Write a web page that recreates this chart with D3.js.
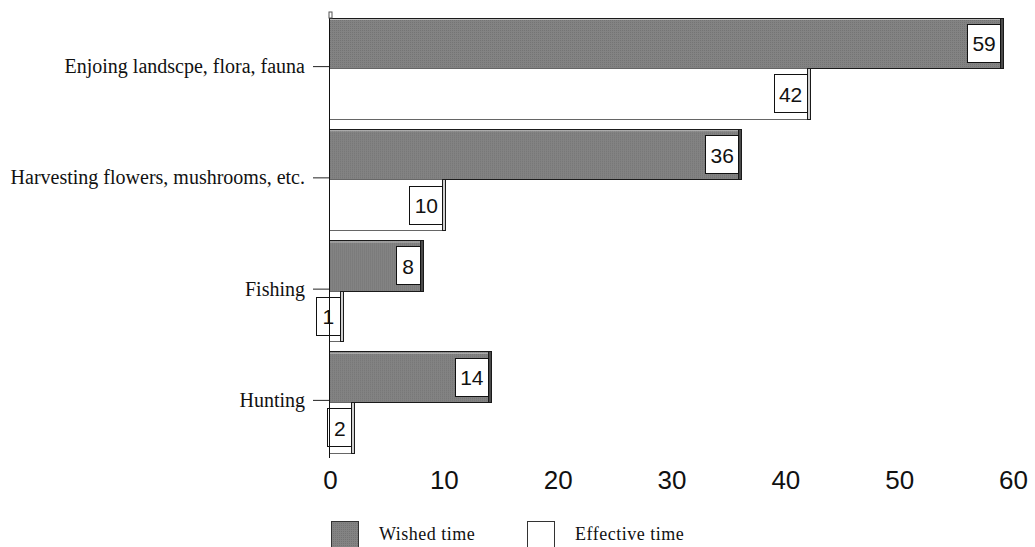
<!DOCTYPE html>
<html>
<head>
<meta charset="utf-8">
<script src="https://cdn.jsdelivr.net/npm/d3@7"></script>
<style>
  html, body { margin: 0; padding: 0; background: #fff; }
  svg { display: block; }
</style>
</head>
<body>
<svg id="chart" width="1035" height="547"></svg>
<script>
// Leisure activities: time wished vs. time effectively spent
const categories = ["Enjoing landscpe, flora, fauna", "Harvesting flowers, mushrooms, etc.", "Fishing", "Hunting"];
const seriesNames = ["Wished time", "Effective time"];
const wished = [59, 36, 8, 14];
const effective = [42, 10, 1, 2];
const xTicks = [0, 10, 20, 30, 40, 50, 60];

const svg = d3.select("#chart");

const x = d3.scaleLinear().domain([0, 60]).range([329, 1012]);
const y = d3.scaleBand().domain(categories).range([18, 453]).paddingInner(0.09).paddingOuter(0);
const ySub = d3.scaleBand().domain(seriesNames).range([0, y.bandwidth()]);

// fine dotted fill used for the grey bars
const defs = svg.append("defs");
const pat = defs.append("pattern").attr("id", "dots")
  .attr("width", 2).attr("height", 2).attr("patternUnits", "userSpaceOnUse");
pat.append("rect").attr("width", 2).attr("height", 2).attr("fill", "#838383");
pat.append("rect").attr("width", 1).attr("height", 1).attr("fill", "#747474");

const rows = categories.map((c, i) => ({ cat: c, values: [
  { s: seriesNames[0], v: wished[i] },
  { s: seriesNames[1], v: effective[i] }
]}));

const groups = svg.selectAll("g.cat").data(rows).join("g")
  .attr("class", "cat")
  .attr("transform", d => `translate(0,${y(d.cat)})`);

const bars = groups.selectAll("g.bar").data(d => d.values).join("g").attr("class", "bar");

const depth = 3;
bars.append("rect")
  .attr("x", x(0))
  .attr("y", d => ySub(d.s))
  .attr("width", d => x(d.v) - x(0) + depth)
  .attr("height", ySub.bandwidth())
  .attr("fill", d => d.s === seriesNames[0] ? "url(#dots)" : "#fff")
  .attr("stroke", d => d.s === seriesNames[0] ? "#1a1a1a" : "#666")
  .attr("stroke-width", 1)
  .attr("shape-rendering", "crispEdges");

// light top edge on grey bars
bars.filter(d => d.s === seriesNames[0]).append("line")
  .attr("x1", x(0) + 1).attr("x2", d => x(d.v) + depth - 1)
  .attr("y1", d => ySub(d.s) + 1.5).attr("y2", d => ySub(d.s) + 1.5)
  .attr("stroke", "#b8b8b8").attr("stroke-width", 1);

// darker side face at the end of each bar
bars.append("rect")
  .attr("x", d => x(d.v))
  .attr("y", d => ySub(d.s))
  .attr("width", depth)
  .attr("height", ySub.bandwidth())
  .attr("fill", d => d.s === seriesNames[0] ? "#4a4a4a" : "#d0d0d0")
  .attr("stroke", "#1a1a1a")
  .attr("stroke-width", 1)
  .attr("shape-rendering", "crispEdges");

// value boxes at the end of each bar
const boxH = 38;
bars.each(function(d) {
  const g = d3.select(this);
  const label = String(d.v);
  const w = label.length > 1 ? 33 : 24;
  const right = x(d.v) + depth - 3;
  const cy = ySub(d.s) + ySub.bandwidth() / 2;
  g.append("rect")
    .attr("x", right - w).attr("y", cy - boxH / 2)
    .attr("width", w).attr("height", boxH)
    .attr("fill", "#fff").attr("stroke", "#111").attr("stroke-width", 1)
    .attr("shape-rendering", "crispEdges");
  g.append("text")
    .attr("x", right - w / 2).attr("y", cy + 8)
    .attr("text-anchor", "middle")
    .attr("font-family", "Liberation Sans, Arial, sans-serif")
    .attr("font-size", 21)
    .attr("fill", "#111")
    .text(label);
});

// vertical category axis
const yAxis = d3.axisLeft(y).tickSize(16).tickPadding(8);
const ya = svg.append("g").attr("transform", `translate(${x(0)},-2)`).call(yAxis);
ya.select(".domain").remove();
ya.selectAll(".tick line").attr("stroke", "#222");
ya.selectAll(".tick text")
  .attr("font-family", "Liberation Serif, Times New Roman, serif")
  .attr("font-size", 20).attr("fill", "#111");

svg.append("line")
  .attr("x1", x(0)).attr("x2", x(0)).attr("y1", 12).attr("y2", 458)
  .attr("stroke", "#111").attr("stroke-width", 1).attr("shape-rendering", "crispEdges");
svg.append("rect").attr("x", x(0)).attr("y", 12).attr("width", 3).attr("height", 6)
  .attr("fill", "#fff").attr("stroke", "#555").attr("stroke-width", 1);

// horizontal value axis (labels only)
const xAxis = d3.axisBottom(x).tickValues(xTicks).tickSize(0).tickPadding(0);
const xa = svg.append("g").attr("transform", "translate(1,470)").call(xAxis);
xa.select(".domain").remove();
xa.selectAll(".tick text")
  .attr("font-family", "Liberation Sans, Arial, sans-serif")
  .attr("font-size", 26).attr("fill", "#111").attr("dy", "0.72em");

// legend
const legend = svg.append("g").attr("transform", "translate(331,521)");
const items = legend.selectAll("g").data(seriesNames).join("g")
  .attr("transform", (d, i) => `translate(${i * 196},0)`);
items.append("rect")
  .attr("width", 27).attr("height", 30)
  .attr("fill", (d, i) => i === 0 ? "url(#dots)" : "#fff")
  .attr("stroke", "#333").attr("stroke-width", 1).attr("shape-rendering", "crispEdges");
items.append("text")
  .attr("x", 48).attr("y", 19)
  .attr("font-family", "Liberation Serif, Times New Roman, serif")
  .attr("font-size", 18).attr("letter-spacing", 0.5).attr("fill", "#111")
  .text(d => d);
</script>
</body>
</html>
